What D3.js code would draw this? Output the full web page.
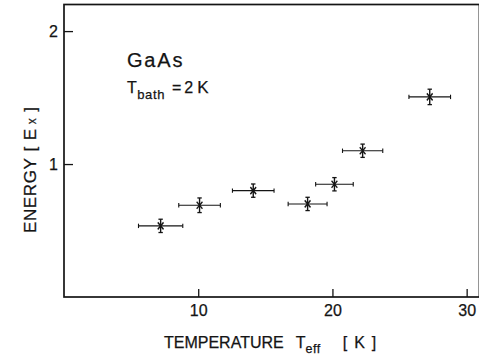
<!DOCTYPE html>
<html>
<head>
<meta charset="utf-8">
<script src="https://cdn.jsdelivr.net/npm/d3@7"></script>
<style>
  html, body { margin: 0; padding: 0; background: #fff; }
  svg { display: block; font-family: "Liberation Sans", Arial, sans-serif; }
  text { stroke: #141414; stroke-width: 0.25px; }
</style>
</head>
<body>
<svg id="chart" width="479" height="357"></svg>
<script>
// Effective temperature (K) of each measurement and its horizontal uncertainty
const tempEff = [7.2, 10.1, 14.1, 18.15, 20.15, 22.25, 27.25];
const tempErr = [1.65, 1.55, 1.55, 1.45, 1.4, 1.5, 1.55];
// Energy in units of E_x and its vertical uncertainty
const energy = [0.535, 0.69, 0.80, 0.70, 0.848, 1.10, 1.505];
const energyErr = [0.05, 0.055, 0.05, 0.05, 0.05, 0.05, 0.058];
// Axis ticks
const xTicks = [10, 20, 30];
const yTicks = [1, 2];

const svg = d3.select("#chart");
const ink = "#141414";

const x = d3.scaleLinear().domain([0, 30.95]).range([64, 479.4]);
const y = d3.scaleLinear().domain([0, 2.2]).range([297, 4.5]);

// Frame around the plotting area
svg.append("rect")
  .attr("x", x(0)).attr("y", y(2.2))
  .attr("width", x(30.95) - x(0)).attr("height", y(0) - y(2.2))
  .attr("fill", "none").attr("stroke", ink).attr("stroke-width", 1.7);

// Axes with inward ticks
const xAxis = svg.append("g")
  .attr("transform", `translate(0,${y(0)})`)
  .call(d3.axisBottom(x).tickValues(xTicks).tickSizeInner(-8).tickSizeOuter(0).tickPadding(8).tickFormat(d3.format("d")));
const yAxis = svg.append("g")
  .attr("transform", `translate(${x(0)},0)`)
  .call(d3.axisLeft(y).tickValues(yTicks).tickSizeInner(-9).tickSizeOuter(0).tickPadding(6).tickFormat(d3.format("d")));
[xAxis, yAxis].forEach(g => {
  g.select(".domain").remove();
  g.selectAll(".tick line").attr("stroke", ink).attr("stroke-width", 1.3);
  g.selectAll(".tick text").attr("fill", ink)
    .style("font-family", "'Liberation Sans', Arial, sans-serif")
    .style("font-size", "16px");
});

// Data points with error bars
const pts = tempEff.map((t, i) => ({ t, dt: tempErr[i], e: energy[i], de: energyErr[i] }));
const g = svg.append("g").attr("stroke", ink).attr("fill", "none");
const cap = 2.2;
pts.forEach(p => {
  const cx = x(p.t), cy = y(p.e);
  const x0 = x(p.t - p.dt), x1 = x(p.t + p.dt);
  const y0 = y(p.e + p.de), y1 = y(p.e - p.de);
  // horizontal bar and end caps
  g.append("line").attr("x1", x0).attr("x2", x1).attr("y1", cy).attr("y2", cy).attr("stroke-width", 1.1);
  g.append("line").attr("x1", x0).attr("x2", x0).attr("y1", cy - cap).attr("y2", cy + cap).attr("stroke-width", 1.1);
  g.append("line").attr("x1", x1).attr("x2", x1).attr("y1", cy - cap).attr("y2", cy + cap).attr("stroke-width", 1.1);
  // vertical bar and end caps
  g.append("line").attr("x1", cx).attr("x2", cx).attr("y1", y0).attr("y2", y1).attr("stroke-width", 1.4);
  g.append("line").attr("x1", cx - cap).attr("x2", cx + cap).attr("y1", y0).attr("y2", y0).attr("stroke-width", 1.3);
  g.append("line").attr("x1", cx - cap).attr("x2", cx + cap).attr("y1", y1).attr("y2", y1).attr("stroke-width", 1.3);
  // cross marker
  g.append("path")
    .attr("transform", `translate(${cx},${cy}) scale(0.95,1.15)`)
    .attr("d", d3.symbol(d3.symbolX, 26)())
    .attr("stroke-width", 1.4);
});

// Sample annotation
svg.append("text")
  .attr("x", 127).attr("y", 67)
  .attr("fill", ink).style("font-size", "20px").style("letter-spacing", "1.8px")
  .text("GaAs");

const bath = svg.append("text")
  .attr("x", 127).attr("y", 93)
  .attr("fill", ink).style("font-size", "16px");
bath.append("tspan").text("T");
bath.append("tspan").attr("dy", 6).attr("dx", 0.5).style("font-size", "13px").style("letter-spacing", "0.6px").text("bath");
bath.append("tspan").attr("dy", -6).attr("dx", 7).text("=");
bath.append("tspan").attr("dx", 3).text("2");
bath.append("tspan").attr("dx", 4).style("font-size", "17px").text("K");

// Axis titles
const xt = svg.append("text")
  .attr("x", 164).attr("y", 348)
  .attr("fill", ink).style("font-size", "16px");
xt.append("tspan").text("TEMPERATURE");
xt.append("tspan").attr("dx", 12).text("T");
xt.append("tspan").attr("dy", 5).style("font-size", "12.5px").style("letter-spacing", "0.5px").text("eff");
xt.append("tspan").attr("dy", -5).attr("dx", 22).text("[");
xt.append("tspan").attr("dx", 7).text("K");
xt.append("tspan").attr("dx", 7).text("]");

const yt = svg.append("text")
  .attr("transform", "translate(36,233) rotate(-90)")
  .attr("fill", ink).style("font-size", "17px").style("letter-spacing", "0.6px");
yt.append("tspan").text("ENERGY");
yt.append("tspan").attr("dx", 6).text("[");
yt.append("tspan").attr("dx", 6).text("E");
yt.append("tspan").attr("dx", 4).style("font-size", "12px").text("x");
yt.append("tspan").attr("dx", 6).text("]");
</script>
</body>
</html>
